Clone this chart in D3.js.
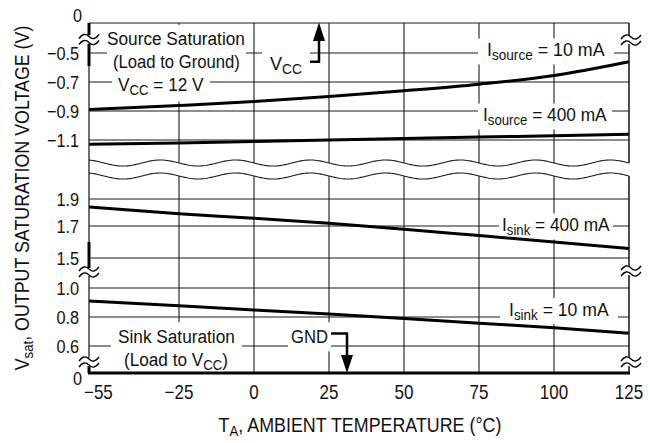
<!DOCTYPE html>
<html>
<head>
<meta charset="utf-8">
<script src="https://cdn.jsdelivr.net/npm/d3@7"></script>
<style>
  body { margin: 0; background: #fff; }
  svg text { font-family: "Liberation Sans", Arial, sans-serif; fill: #111; }
</style>
</head>
<body>
<div id="chart"></div>
<script>
// temperature points (deg C)
const tempsC = [-55, -25, 0, 25, 50, 75, 100, 125];

// source saturation (V), relative to Vcc
const source10 = [-0.89, -0.862, -0.835, -0.80, -0.76, -0.715, -0.655, -0.56];
const source400 = [-1.13, -1.12, -1.11, -1.10, -1.09, -1.08, -1.07, -1.06];
// sink saturation (V)
const sink400 = [1.84, 1.79, 1.758, 1.72, 1.68, 1.64, 1.60, 1.56];
const sink10 = [0.91, 0.878, 0.848, 0.82, 0.79, 0.757, 0.726, 0.688];

const xTicks = [-55, -25, 0, 25, 50, 75, 100, 125];
const sourceTicks = [-0.5, -0.7, -0.9, -1.1];
const sinkHiTicks = [1.9, 1.7, 1.5];
const sinkLoTicks = [1.0, 0.8, 0.6];

// squeeze a text horizontally around its anchor x (no condensed font installed)
function squeeze(textSel, x, k) {
  textSel.attr('transform', `translate(${x},0) scale(${k},1) translate(${-x},0)`);
}

class Chart {
  constructor(el) {
    this.el = el;
    this.width = 650;
    this.height = 443;
    this.box = { l: 89, r: 629, t: 23, b: 373 };
    this.draw();
  }

  draw() {
    this.svg = d3.select(this.el).append('svg')
      .attr('width', this.width)
      .attr('height', this.height);

    this.createScales();
    this.addGrid();
    this.addAnnotations();
    this.addLines();
    this.addAxes();
    this.addTickLabels();
  }

  createScales() {
    const b = this.box;
    this.x = d3.scaleLinear().domain([-55, 125]).range([b.l, b.r]);
    this.ySource = d3.scaleLinear().domain([-0.5, -1.1]).range([53, 140]);
    this.ySinkHi = d3.scaleLinear().domain([1.9, 1.7, 1.5]).range([199, 226, 258]);
    this.ySinkLo = d3.scaleLinear().domain([1.0, 0.6]).range([288, 346]);
    // wavy break between the source and sink panels
    this.wave = (px, base) => base + 3 * Math.cos(2 * Math.PI * (px - 123) / 75);
    this.waveTop = 163;
    this.waveBot = 176;
  }

  addGrid() {
    const b = this.box;
    const g = this.svg.append('g').attr('class', 'grid')
      .attr('stroke', '#1a1a1a').attr('stroke-width', 1.1).attr('fill', 'none');

    const hLines = [
      ...sourceTicks.map(v => this.ySource(v)),
      ...sinkHiTicks.map(v => this.ySinkHi(v)),
      ...sinkLoTicks.map(v => this.ySinkLo(v))
    ];
    g.selectAll('line.h').data(hLines).enter().append('line')
      .attr('class', 'h')
      .attr('x1', b.l).attr('x2', b.r)
      .attr('y1', d => d).attr('y2', d => d);

    const vTicks = xTicks.slice(1);
    g.selectAll('line.vt').data(vTicks).enter().append('line')
      .attr('class', 'vt')
      .attr('x1', d => this.x(d)).attr('x2', d => this.x(d))
      .attr('y1', b.t).attr('y2', d => this.wave(this.x(d), this.waveTop));
    g.selectAll('line.vb').data(vTicks).enter().append('line')
      .attr('class', 'vb')
      .attr('x1', d => this.x(d)).attr('x2', d => this.x(d))
      .attr('y1', d => this.wave(this.x(d), this.waveBot)).attr('y2', b.b);

    const xs = d3.range(b.l, b.r + 1, 2);
    [this.waveTop, this.waveBot].forEach(base => {
      g.append('path')
        .attr('d', d3.line().x(p => p).y(p => this.wave(p, base))(xs));
    });

    g.append('line')
      .attr('x1', b.l).attr('x2', b.r).attr('y1', b.t).attr('y2', b.t);
  }

  // text with optional subscripts, squeezed to width w, on a white knock-out box
  label(x, y, parts, w, opt = {}) {
    const g = this.svg.append('g').attr('class', 'label');
    const t = g.append('text')
      .attr('x', x).attr('y', y)
      .attr('font-size', opt.size || 19);
    let shifted = false;
    parts.forEach(p => {
      const sub = Array.isArray(p);
      const s = t.append('tspan').text(sub ? p[0] : p);
      if (sub) { s.attr('font-size', 14.5).attr('dy', 4); shifted = true; }
      else if (shifted) { s.attr('dy', -4); shifted = false; }
    });
    const bb = t.node().getBBox();
    const k = w / bb.width;
    squeeze(t, x, k);
    const px = opt.padX != null ? opt.padX : 6;
    const py = opt.padY != null ? opt.padY : 2;
    g.insert('rect', 'text')
      .attr('x', x + (bb.x - x) * k - px).attr('y', bb.y - py)
      .attr('width', w + 2 * px).attr('height', bb.height + 2 * py)
      .attr('fill', '#fff');
    return g;
  }

  addAnnotations() {
    this.label(107, 45, ['Source Saturation'], 138, { padY: 3 });
    this.label(113, 68.5, ['(Load to Ground)'], 127, { padY: 3 });
    this.label(118, 91.5, ['V', ['CC'], ' = 12 V'], 86, { padY: 3 });
    this.label(270, 70, ['V', ['CC']], 32, { padX: 8, padY: 1 });

    this.label(487, 56.5, ['I', ['source'], ' = 10 mA'], 118, { padX: 9, padY: 1 });
    this.label(483, 121.5, ['I', ['source'], ' = 400 mA'], 124, { padX: 5, padY: 1 });
    this.label(502, 231.5, ['I', ['sink'], ' = 400 mA'], 108, { padX: 3, padY: 1 });
    this.label(509, 316, ['I', ['sink'], ' = 10 mA'], 100, { padX: 9, padY: 1 });

    this.label(118, 343.3, ['Sink Saturation'], 117, { padX: 7, padY: 4 });
    this.label(124, 366.5, ['(Load to ', 'V', ['CC'], ')'], 104, { padX: 7, padY: 3 });
    this.label(291, 343.3, ['GND'], 37, { padX: 3, padY: 4 });

    // supply arrows
    const a = this.svg.append('g').attr('class', 'arrows');
    a.append('path')
      .attr('d', 'M310,61.7H319V36')
      .attr('fill', 'none').attr('stroke', '#000').attr('stroke-width', 2.5);
    a.append('path').attr('d', 'M319,22.5L313,41H325Z').attr('fill', '#000');
    a.append('path')
      .attr('d', 'M331,333.5H347V358')
      .attr('fill', 'none').attr('stroke', '#000').attr('stroke-width', 2.5);
    a.append('path').attr('d', 'M347,373L341,355H353Z').attr('fill', '#000');
  }

  addLines() {
    const series = [
      { vals: source10, y: this.ySource },
      { vals: source400, y: this.ySource },
      { vals: sink400, y: this.ySinkHi },
      { vals: sink10, y: this.ySinkLo }
    ];
    const g = this.svg.append('g').attr('class', 'curves');
    series.forEach(s => {
      const line = d3.line()
        .x((d, i) => this.x(tempsC[i]))
        .y(d => s.y(d))
        .curve(d3.curveMonotoneX);
      g.append('path')
        .attr('d', line(s.vals))
        .attr('fill', 'none')
        .attr('stroke', '#000')
        .attr('stroke-width', 3);
    });
  }

  breakMark(g, cx, cy) {
    g.append('rect')
      .attr('x', cx - 3).attr('y', cy - 4).attr('width', 6).attr('height', 8)
      .attr('fill', '#fff');
    [-3, 3].forEach(dy => {
      g.append('path')
        .attr('d', `M${cx - 10},${cy + dy + 2}Q${cx - 5},${cy + dy - 5} ${cx},${cy + dy}T${cx + 10},${cy + dy - 2}`)
        .attr('fill', 'none').attr('stroke', '#000').attr('stroke-width', 1.4);
    });
  }

  addAxes() {
    const b = this.box;
    const g = this.svg.append('g').attr('class', 'axes');

    // left axis: thin line with heavier stretches near the breaks
    g.append('line')
      .attr('x1', b.l).attr('x2', b.l).attr('y1', b.t).attr('y2', b.b)
      .attr('stroke', '#222').attr('stroke-width', 1.3);
    [[b.t, 35], [44, 66], [242, 268], [366, b.b]].forEach(s => {
      g.append('line')
        .attr('x1', b.l).attr('x2', b.l).attr('y1', s[0]).attr('y2', s[1])
        .attr('stroke', '#000').attr('stroke-width', 3);
    });

    // right border, split at the wavy gap
    g.append('line')
      .attr('x1', b.r).attr('x2', b.r).attr('y1', b.t).attr('y2', this.wave(b.r, this.waveTop))
      .attr('stroke', '#222').attr('stroke-width', 1.1);
    g.append('line')
      .attr('x1', b.r).attr('x2', b.r).attr('y1', this.wave(b.r, this.waveBot)).attr('y2', b.b)
      .attr('stroke', '#222').attr('stroke-width', 1.1);

    // bottom axis
    g.append('line')
      .attr('x1', b.l - 1).attr('x2', b.r + 1).attr('y1', b.b).attr('y2', b.b)
      .attr('stroke', '#000').attr('stroke-width', 2.8);

    this.breakMark(g, b.l, 39.5);
    this.breakMark(g, b.l, 272);
    this.breakMark(g, b.l, 362);
    this.breakMark(g, b.r + 2, 40);
    this.breakMark(g, b.r + 2, 271);
    this.breakMark(g, b.r + 2, 362);
  }

  addTickLabels() {
    const b = this.box;
    const g = this.svg.append('g').attr('class', 'ticks');
    const fy = d3.format('.1f');

    const yLabels = [
      ...sourceTicks.map(v => ({ t: fy(v), y: this.ySource(v) })),
      ...sinkHiTicks.map(v => ({ t: fy(v), y: this.ySinkHi(v) })),
      ...sinkLoTicks.map(v => ({ t: fy(v), y: this.ySinkLo(v) }))
    ];
    g.selectAll('text.yl').data(yLabels).enter().append('text')
      .attr('class', 'yl')
      .attr('x', 79).attr('y', d => d.y + 7)
      .attr('font-size', 18.5)
      .attr('text-anchor', 'end')
      .text(d => d.t)
      .each(function () { squeeze(d3.select(this), 79, 0.88); });

    // zero at both ends of the broken axis
    [b.t - 1, b.b + 12].forEach(yy => {
      g.append('text').attr('x', 82).attr('y', yy)
        .attr('font-size', 18.5).attr('text-anchor', 'end').text('0')
        .call(s => squeeze(s, 82, 0.88));
    });

    const fx = d3.format('d');
    g.selectAll('text.xl').data(xTicks).enter().append('text')
      .attr('class', 'xl')
      .attr('x', (d, i) => i === 0 ? this.x(d) - 5 : this.x(d))
      .attr('y', 399)
      .attr('font-size', 20)
      .attr('text-anchor', (d, i) => i === 0 ? 'start' : 'middle')
      .text(fx)
      .each((d, i, nodes) => {
        const xx = i === 0 ? this.x(d) - 5 : this.x(d);
        squeeze(d3.select(nodes[i]), xx, 0.85);
      });

    const xt = this.svg.append('text')
      .attr('x', 360).attr('y', 432)
      .attr('text-anchor', 'middle').attr('font-size', 19.5);
    xt.append('tspan').text('T');
    xt.append('tspan').text('A').attr('font-size', 14.5).attr('dy', 4);
    xt.append('tspan').text(', AMBIENT TEMPERATURE (°C)').attr('dy', -4);
    squeeze(xt, 360, 283 / xt.node().getBBox().width);

    // rotated axis title: squeeze its length inside the rotated frame
    const yg = this.svg.append('g').attr('transform', 'translate(29,198) rotate(-90)');
    const yt = yg.append('text')
      .attr('x', 0).attr('y', 0)
      .attr('text-anchor', 'middle').attr('font-size', 19.5);
    yt.append('tspan').text('V');
    yt.append('tspan').text('sat').attr('font-size', 14.5).attr('dy', 4);
    yt.append('tspan').text(', OUTPUT SATURATION VOLTAGE (V)').attr('dy', -4);
    squeeze(yt, 0, 345 / yt.node().getBBox().width);
  }
}

new Chart(document.getElementById('chart'));
</script>
</body>
</html>
